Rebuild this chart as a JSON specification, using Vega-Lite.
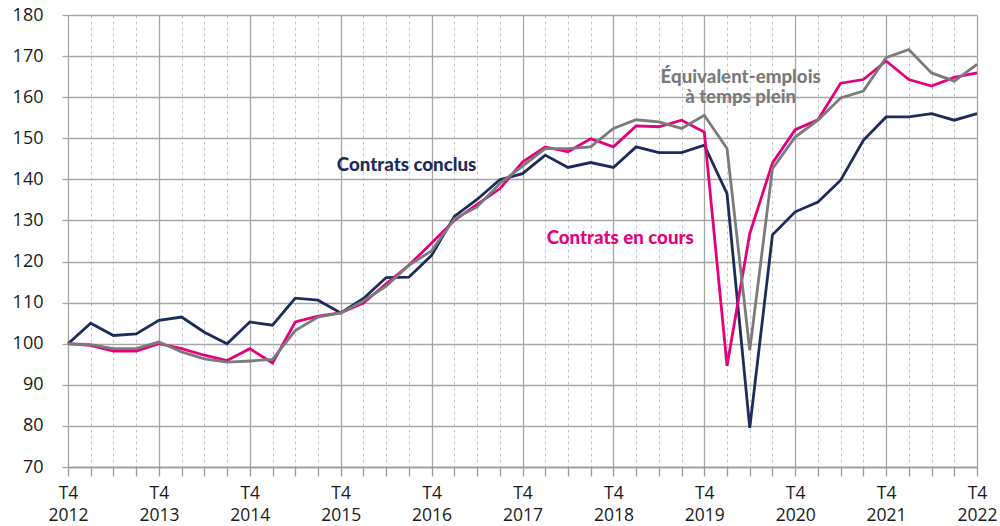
{
  "$schema": "https://vega.github.io/schema/vega-lite/v6.json",
  "width": 909,
  "height": 452,
  "autosize": {"type": "none"},
  "padding": {"left": 68, "top": 15, "right": 23, "bottom": 59},
  "background": "white",
  "config": {
    "view": {"stroke": null},
    "font": "Open Sans"
  },
  "datasets": {
    "series": [
      {"t":0,"serie":"conclus","v":100},{"t":1,"serie":"conclus","v":105.0},{"t":2,"serie":"conclus","v":102.0},{"t":3,"serie":"conclus","v":102.4},{"t":4,"serie":"conclus","v":105.7},{"t":5,"serie":"conclus","v":106.5},{"t":6,"serie":"conclus","v":102.8},{"t":7,"serie":"conclus","v":100.0},{"t":8,"serie":"conclus","v":105.3},{"t":9,"serie":"conclus","v":104.5},{"t":10,"serie":"conclus","v":111.1},{"t":11,"serie":"conclus","v":110.6},{"t":12,"serie":"conclus","v":107.5},{"t":13,"serie":"conclus","v":111.0},{"t":14,"serie":"conclus","v":116.1},{"t":15,"serie":"conclus","v":116.2},{"t":16,"serie":"conclus","v":121.5},{"t":17,"serie":"conclus","v":131.0},{"t":18,"serie":"conclus","v":135.1},{"t":19,"serie":"conclus","v":139.9},{"t":20,"serie":"conclus","v":141.4},{"t":21,"serie":"conclus","v":145.9},{"t":22,"serie":"conclus","v":142.9},{"t":23,"serie":"conclus","v":144.1},{"t":24,"serie":"conclus","v":142.9},{"t":25,"serie":"conclus","v":147.9},{"t":26,"serie":"conclus","v":146.5},{"t":27,"serie":"conclus","v":146.5},{"t":28,"serie":"conclus","v":148.3},{"t":29,"serie":"conclus","v":136.5},{"t":30,"serie":"conclus","v":79.5},{"t":31,"serie":"conclus","v":126.5},{"t":32,"serie":"conclus","v":132.1},{"t":33,"serie":"conclus","v":134.5},{"t":34,"serie":"conclus","v":139.8},{"t":35,"serie":"conclus","v":149.5},{"t":36,"serie":"conclus","v":155.2},{"t":37,"serie":"conclus","v":155.2},{"t":38,"serie":"conclus","v":156.0},{"t":39,"serie":"conclus","v":154.4},{"t":40,"serie":"conclus","v":156.0},
      {"t":0,"serie":"encours","v":100},{"t":1,"serie":"encours","v":99.6},{"t":2,"serie":"encours","v":98.2},{"t":3,"serie":"encours","v":98.2},{"t":4,"serie":"encours","v":100.0},{"t":5,"serie":"encours","v":98.8},{"t":6,"serie":"encours","v":97.2},{"t":7,"serie":"encours","v":95.9},{"t":8,"serie":"encours","v":98.8},{"t":9,"serie":"encours","v":95.3},{"t":10,"serie":"encours","v":105.3},{"t":11,"serie":"encours","v":106.7},{"t":12,"serie":"encours","v":107.5},{"t":13,"serie":"encours","v":109.9},{"t":14,"serie":"encours","v":114.6},{"t":15,"serie":"encours","v":119.1},{"t":16,"serie":"encours","v":124.5},{"t":17,"serie":"encours","v":130.0},{"t":18,"serie":"encours","v":133.9},{"t":19,"serie":"encours","v":137.7},{"t":20,"serie":"encours","v":144.2},{"t":21,"serie":"encours","v":147.9},{"t":22,"serie":"encours","v":146.7},{"t":23,"serie":"encours","v":149.9},{"t":24,"serie":"encours","v":147.9},{"t":25,"serie":"encours","v":153.0},{"t":26,"serie":"encours","v":152.8},{"t":27,"serie":"encours","v":154.4},{"t":28,"serie":"encours","v":151.5},{"t":29,"serie":"encours","v":94.6},{"t":30,"serie":"encours","v":126.8},{"t":31,"serie":"encours","v":144.0},{"t":32,"serie":"encours","v":152.1},{"t":33,"serie":"encours","v":154.5},{"t":34,"serie":"encours","v":163.4},{"t":35,"serie":"encours","v":164.3},{"t":36,"serie":"encours","v":168.8},{"t":37,"serie":"encours","v":164.3},{"t":38,"serie":"encours","v":162.7},{"t":39,"serie":"encours","v":164.8},{"t":40,"serie":"encours","v":165.9},
      {"t":0,"serie":"etp","v":100},{"t":1,"serie":"etp","v":99.8},{"t":2,"serie":"etp","v":98.8},{"t":3,"serie":"etp","v":98.8},{"t":4,"serie":"etp","v":100.4},{"t":5,"serie":"etp","v":98.0},{"t":6,"serie":"etp","v":96.3},{"t":7,"serie":"etp","v":95.5},{"t":8,"serie":"etp","v":95.8},{"t":9,"serie":"etp","v":96.2},{"t":10,"serie":"etp","v":103.2},{"t":11,"serie":"etp","v":106.5},{"t":12,"serie":"etp","v":107.5},{"t":13,"serie":"etp","v":110.4},{"t":14,"serie":"etp","v":114.0},{"t":15,"serie":"etp","v":119.1},{"t":16,"serie":"etp","v":122.6},{"t":17,"serie":"etp","v":130.4},{"t":18,"serie":"etp","v":133.3},{"t":19,"serie":"etp","v":139.0},{"t":20,"serie":"etp","v":143.2},{"t":21,"serie":"etp","v":147.5},{"t":22,"serie":"etp","v":147.5},{"t":23,"serie":"etp","v":147.9},{"t":24,"serie":"etp","v":152.4},{"t":25,"serie":"etp","v":154.5},{"t":26,"serie":"etp","v":154.0},{"t":27,"serie":"etp","v":152.4},{"t":28,"serie":"etp","v":155.6},{"t":29,"serie":"etp","v":147.5},{"t":30,"serie":"etp","v":98.4},{"t":31,"serie":"etp","v":142.6},{"t":32,"serie":"etp","v":150.3},{"t":33,"serie":"etp","v":154.4},{"t":34,"serie":"etp","v":159.8},{"t":35,"serie":"etp","v":161.5},{"t":36,"serie":"etp","v":169.6},{"t":37,"serie":"etp","v":171.6},{"t":38,"serie":"etp","v":165.9},{"t":39,"serie":"etp","v":163.9},{"t":40,"serie":"etp","v":168.0}
    ],
    "labels": [
      {"t":14.9,"v":143.5,"label":"Contrats conclus","serie":"conclus"},
      {"t":24.3,"v":125.7,"label":"Contrats en cours","serie":"encours"},
      {"t":29.6,"v":164.9,"label":"Équivalent-emplois","serie":"etp"},
      {"t":29.6,"v":160.0,"label":"à temps plein","serie":"etp"}
    ]
  },
  "encoding": {
    "x": {
      "field": "t", "type": "quantitative",
      "scale": {"domain": [0, 40], "nice": false, "zero": false},
      "axis": {
        "title": null,
        "values": [0,1,2,3,4,5,6,7,8,9,10,11,12,13,14,15,16,17,18,19,20,21,22,23,24,25,26,27,28,29,30,31,32,33,34,35,36,37,38,39,40],
        "labelExpr": "datum.value % 4 === 0 ? ['T4', '' + (2012 + datum.value / 4)] : ''",
        "labelFont": "Open Sans", "labelFontSize": 17.5, "labelColor": "#1a1a1a",
        "labelLineHeight": 22, "labelPadding": 8, "labelOverlap": false, "labelFlush": false,
        "tickSize": 9, "tickColor": "#9a9a9a", "tickWidth": 1.3,
        "domain": true, "domainColor": "#9a9a9a", "domainWidth": 1.3,
        "grid": true,
        "gridColor": {"condition": {"test": "datum.value % 4 === 0", "value": "#a6a6a6"}, "value": "#c4c4c4"},
        "gridDash": {"condition": {"test": "datum.value % 4 === 0", "value": []}, "value": [3, 3]},
        "gridWidth": {"condition": {"test": "datum.value % 4 === 0", "value": 1.3}, "value": 1}
      }
    },
    "y": {
      "field": "v", "type": "quantitative",
      "scale": {"domain": [70, 180], "nice": false, "zero": false},
      "axis": {
        "title": null,
        "values": [70,80,90,100,110,120,130,140,150,160,170,180],
        "labelFont": "Open Sans", "labelFontSize": 18, "labelColor": "#1a1a1a",
        "labelPadding": 19, "tickSize": 6, "tickColor": "#a6a6a6", "tickWidth": 1.3,
        "domain": false, "grid": true, "gridColor": "#a6a6a6", "gridWidth": 1.3
      }
    }
  },
  "layer": [
    {
      "mark": {"type": "rule", "color": "#707070", "strokeWidth": 2.2},
      "encoding": {"y": {"datum": 100}, "x": {"value": 0}, "x2": {"value": 909}}
    },
    {
      "data": {"name": "series"},
      "mark": {"type": "line", "strokeWidth": 2.8, "strokeJoin": "miter"},
      "encoding": {
        "detail": {"field": "serie"},
        "color": {
          "field": "serie", "type": "nominal", "legend": null,
          "scale": {"domain": ["etp", "encours", "conclus"], "range": ["#7b7b7b", "#e5007d", "#1c2c5b"]}
        },
        "order": {"field": "t"}
      }
    },
    {
      "data": {"name": "labels"},
      "mark": {"type": "text", "font": "Lato", "fontWeight": 900, "fontSize": 18.7, "align": "center", "baseline": "middle"},
      "encoding": {
        "text": {"field": "label"},
        "color": {
          "field": "serie", "type": "nominal", "legend": null,
          "scale": {"domain": ["etp", "encours", "conclus"], "range": ["#727272", "#e5007d", "#1c2c5b"]}
        }
      }
    }
  ]
}
